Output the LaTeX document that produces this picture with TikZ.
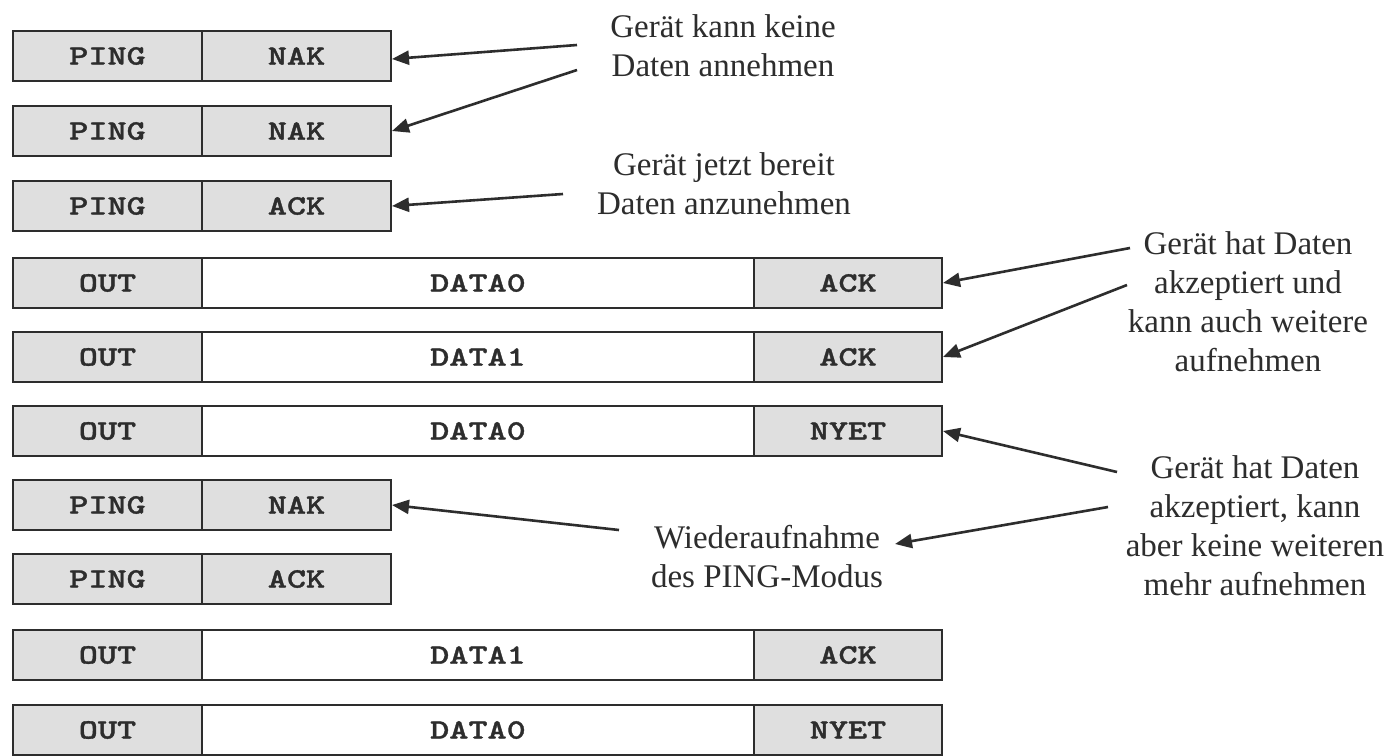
\documentclass[tikz,border=0pt]{standalone}
\usepackage{fontspec}
\setmainfont{Liberation Serif}
\newfontfamily\cellfont[FakeStretch=1.3,FakeBold=1.2]{lmmonolt10-bold.otf}
\usetikzlibrary{arrows.meta}
\definecolor{cellgray}{RGB}{223,223,223}
\definecolor{ink}{RGB}{45,45,45}
\tikzset{
  cell/.style={draw=ink, line width=2pt, minimum height=50pt, inner sep=0pt,
    anchor=north west, font=\cellfont\fontsize{28}{30}\selectfont, text=ink},
  shaded/.style={cell, fill=cellgray},
  plain/.style={cell, fill=white},
  lab/.style={align=center, inner sep=0pt, font=\fontsize{33}{39}\selectfont, text=ink},
  ptr/.style={draw=ink, line width=2.6pt, -{Triangle[length=17pt,width=14pt]}},
}
\begin{document}
\begin{tikzpicture}[x=1pt,y=-1pt]
\fill[white] (0,0) rectangle (1391,755);
\useasboundingbox (0,0) rectangle (1391,755);

% short PING rows
\node[shaded, minimum width=189pt] (a1) at (12,30) {PING};
\node[shaded, minimum width=189pt] (b1) at (201,30) {NAK};
\node[shaded, minimum width=189pt] (a2) at (12,105) {PING};
\node[shaded, minimum width=189pt] (b2) at (201,105) {NAK};
\node[shaded, minimum width=189pt] (a3) at (12,180) {PING};
\node[shaded, minimum width=189pt] (b3) at (201,180) {ACK};

% long OUT rows
\node[shaded, minimum width=189pt] (a4) at (12,257) {OUT};
\node[plain,  minimum width=552pt] (d4) at (201,257) {DATA0};
\node[shaded, minimum width=188pt] (b4) at (753,257) {ACK};
\node[shaded, minimum width=189pt] (a5) at (12,331) {OUT};
\node[plain,  minimum width=552pt] (d5) at (201,331) {DATA1};
\node[shaded, minimum width=188pt] (b5) at (753,331) {ACK};
\node[shaded, minimum width=189pt] (a6) at (12,405) {OUT};
\node[plain,  minimum width=552pt] (d6) at (201,405) {DATA0};
\node[shaded, minimum width=188pt] (b6) at (753,405) {NYET};

% PING rows again
\node[shaded, minimum width=189pt] (a7) at (12,479) {PING};
\node[shaded, minimum width=189pt] (b7) at (201,479) {NAK};
\node[shaded, minimum width=189pt] (a8) at (12,553) {PING};
\node[shaded, minimum width=189pt] (b8) at (201,553) {ACK};

% final OUT rows
\node[shaded, minimum width=189pt] (a9) at (12,629) {OUT};
\node[plain,  minimum width=552pt] (d9) at (201,629) {DATA1};
\node[shaded, minimum width=188pt] (b9) at (753,629) {ACK};
\node[shaded, minimum width=189pt] (a10) at (12,704) {OUT};
\node[plain,  minimum width=552pt] (d10) at (201,704) {DATA0};
\node[shaded, minimum width=188pt] (b10) at (753,704) {NYET};

% labels
\node[lab] (L1) at (723,46) {Gerät kann keine\\Daten annehmen};
\node[lab] (L2) at (724,184) {Gerät jetzt bereit\\Daten anzunehmen};
\node[lab] (L3) at (1248,302) {Gerät hat Daten\\akzeptiert und\\kann auch weitere\\aufnehmen};
\node[lab] (L4) at (1255,526) {Gerät hat Daten\\akzeptiert, kann\\aber keine weiteren\\mehr aufnehmen};
\node[lab] (L5) at (767,557) {Wiederaufnahme\\des PING-Modus};

% arrow start / end points
\coordinate (s1) at (577,45);
\coordinate (s2) at (577,70);
\coordinate (s3) at (563,194);
\coordinate (s4) at (1130,248);
\coordinate (s5) at (1127,285);
\coordinate (s6) at (1117,472);
\coordinate (s7) at (619,530);
\coordinate (s8) at (1108,507);
\coordinate (t8) at (895,544);

\draw[ptr] (s1) -- ([yshift=-3pt]b1.east);
\draw[ptr] (s2) -- (b2.east);
\draw[ptr] (s3) -- (b3.east);
\draw[ptr] (s4) -- (b4.east);
\draw[ptr] (s5) -- (b5.east);
\draw[ptr] (s6) -- (b6.east);
\draw[ptr] (s7) -- (b7.east);
\draw[ptr] (s8) -- (t8);
\end{tikzpicture}
\end{document}
